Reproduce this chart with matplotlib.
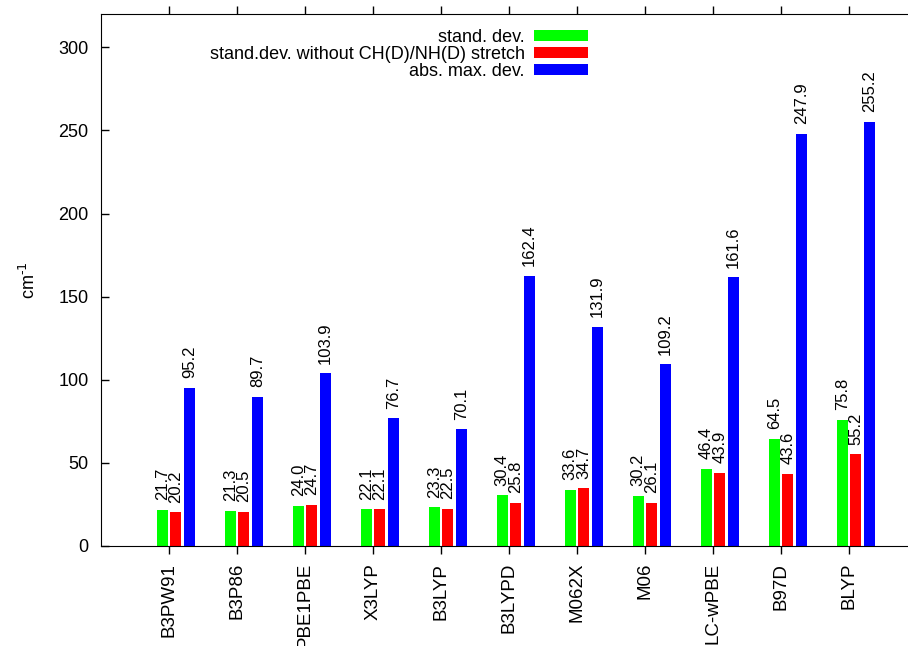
import numpy as np
import matplotlib
matplotlib.use("Agg")
from matplotlib import pyplot as plt

methods = ["B3PW91", "B3P86", "PBE1PBE", "X3LYP", "B3LYP", "B3LYPD",
           "M062X", "M06", "LC-wPBE", "B97D", "BLYP"]
std_dev = [21.7, 21.3, 24.0, 22.1, 23.3, 30.4, 33.6, 30.2, 46.4, 64.5, 75.8]
std_dev_no_stretch = [20.2, 20.5, 24.7, 22.1, 22.5, 25.8, 34.7, 26.1, 43.9, 43.6, 55.2]
abs_max_dev = [95.2, 89.7, 103.9, 76.7, 70.1, 162.4, 131.9, 109.2, 161.6, 247.9, 255.2]
series_names = ["stand. dev.", "stand.dev. without CH(D)/NH(D) stretch", "abs. max. dev."]

plt.rcParams["font.family"] = ["Liberation Sans", "DejaVu Sans"]
plt.rcParams["font.size"] = 13

fig = plt.figure(figsize=(9.08, 6.46), dpi=100)
# axes reach past the right edge of the figure, as in the cropped original
ax = fig.add_axes([101 / 908, 1 - 546 / 646, 816 / 908, 532 / 646])

x = np.arange(len(methods))
width = 0.165
offsets = [-0.1, 0.1, 0.3]
colors = ["#00ff00", "#ff0000", "#0000ff"]
series = [std_dev, std_dev_no_stretch, abs_max_dev]

for vals, off, col, name in zip(series, offsets, colors, series_names):
    ax.bar(x + off, vals, width, color=col, label=name)
    for xi, v in zip(x + off, vals):
        ax.annotate(f"{v:.1f}", (xi, v), xytext=(0, 7), textcoords="offset points",
                    rotation=90, ha="center", va="bottom", fontsize=12)

ax.set_xlim(-1, 11)
ax.set_ylim(0, 320)
ax.set_yticks(range(0, 301, 50))
ax.set_xticks(x)
ax.set_xticklabels(methods, rotation=90, fontsize=13.5)
ax.set_ylabel(r"cm$^{\text{-1}}$", labelpad=14)

ax.tick_params(axis="x", direction="out", top=True, length=6, width=1, pad=6)
ax.tick_params(axis="y", direction="in", length=6, width=1, pad=9)
ax.spines["right"].set_visible(False)

ax.legend(loc="upper right", bbox_to_anchor=(595 / 908, 1 - 22 / 646),
          bbox_transform=fig.transFigure, frameon=False, markerfirst=False,
          handlelength=3.0, handleheight=0.55, labelspacing=0.0, fontsize=13,
          borderaxespad=0, handletextpad=0.5)

plt.savefig("out.png", dpi=100)
plt.close()
